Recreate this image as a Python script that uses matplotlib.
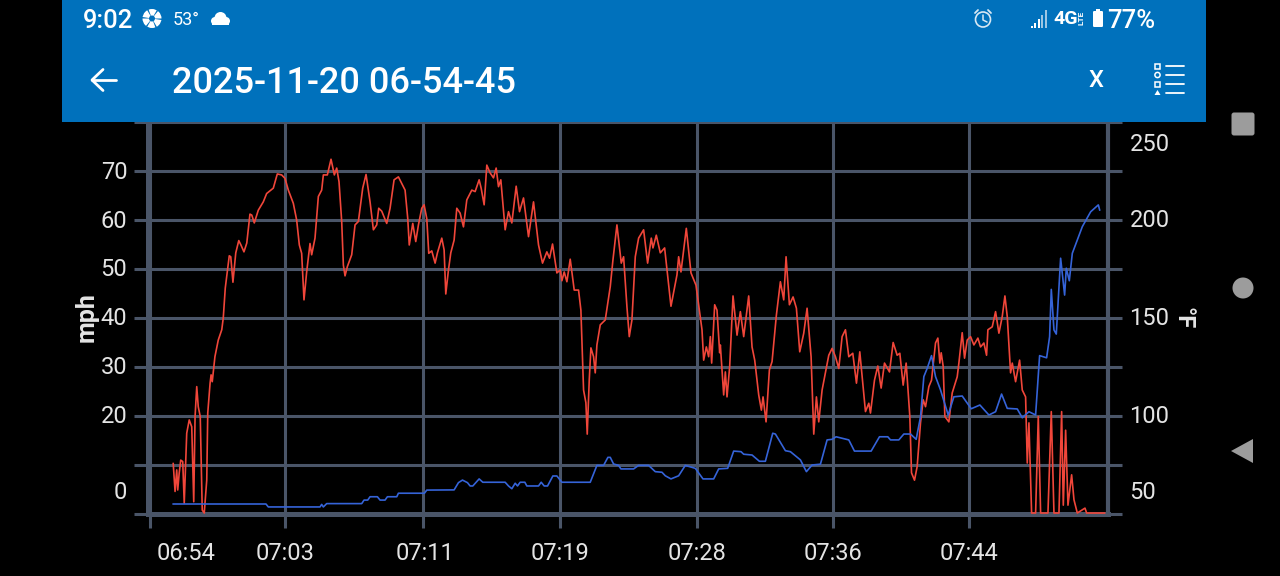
#!/usr/bin/env python3
# -*- coding: utf-8 -*-
import matplotlib
matplotlib.use('Agg')
from matplotlib import pyplot as plt
from matplotlib.patches import Rectangle, Circle, Polygon, FancyBboxPatch, Wedge
from matplotlib.lines import Line2D
from matplotlib.transforms import Affine2D

plt.rcParams['font.family'] = ['Roboto', 'DejaVu Sans']

# minutes since 06:54:45, mph
speed_t = [1.50, 1.61, 1.71, 1.77, 1.86, 1.95, 2.07, 2.16, 2.31, 2.46, 2.61, 2.73, 2.81, 2.91, 3.00, 3.12, 3.24, 3.36,
           3.51, 3.57, 3.71, 3.77, 3.84, 4.00, 4.20, 4.41, 4.50, 4.62, 4.86, 4.95, 5.08, 5.25, 5.43, 5.56, 5.74, 5.91,
           6.10, 6.21, 6.36, 6.60, 6.90, 7.10, 7.50, 7.74, 8.00, 8.20, 8.40, 8.70, 8.90, 9.06, 9.20, 9.34, 9.50, 9.70,
           9.80, 10.00, 10.20, 10.40, 10.50, 10.74, 10.96, 11.16, 11.30, 11.44, 11.60, 11.70, 11.80, 11.94, 12.20,
           12.40, 12.60, 12.86, 13.06, 13.30, 13.50, 13.70, 13.82, 14.00, 14.30, 14.50, 14.74, 15.00, 15.40, 15.56,
           15.65, 15.86, 16.04, 16.20, 16.40, 16.54, 16.70, 16.82, 17.00, 17.20, 17.34, 17.60, 17.74, 17.84, 18.00,
           18.14, 18.34, 18.50, 18.70, 18.90, 19.10, 19.40, 19.60, 19.84, 19.96, 20.14, 20.30, 20.50, 20.70, 20.86,
           21.00, 21.14, 21.40, 21.60, 21.80, 22.06, 22.26, 22.50, 22.80, 23.10, 23.40, 23.64, 23.90, 24.06, 24.24,
           24.50, 24.70, 24.80, 24.94, 25.10, 25.30, 25.54, 25.80, 25.94, 26.00, 26.10, 26.24, 26.32, 26.44, 26.54,
           26.70, 26.80, 26.90, 27.10, 27.40, 27.70, 27.86, 28.10, 28.36, 28.50, 28.70, 28.84, 29.00, 29.20, 29.40,
           29.70, 29.94, 30.16, 30.26, 30.46, 30.70, 30.96, 31.34, 31.70, 31.80, 31.94, 32.26, 32.54, 32.84, 33.20,
           33.30, 33.46, 33.60, 33.70, 33.78, 33.96, 34.10, 34.26, 34.30, 34.50, 34.60, 34.70, 34.86, 35.06, 35.30,
           35.50, 35.70, 36.00, 36.20, 36.36, 36.60, 36.76, 36.86, 37.04, 37.24, 37.40, 37.66, 37.90, 38.10, 38.24,
           38.44, 38.66, 38.86, 39.06, 39.30, 39.50, 39.74, 39.90, 40.06, 40.20, 40.40, 40.80, 41.00, 41.20, 41.40,
           41.60, 41.80, 42.00, 42.24, 42.46, 42.66, 43.00, 43.20, 43.30, 43.54, 43.74, 43.94, 44.14, 44.44, 44.66,
           44.90, 45.06, 45.26, 45.44, 45.66, 45.76, 45.94, 46.10, 46.30, 46.46, 46.60, 46.80, 46.96, 47.20, 47.34,
           47.46, 47.54, 47.66, 47.76, 48.00, 48.20, 48.50, 48.60, 48.80, 48.94, 49.10, 49.30, 49.50, 49.74, 49.90,
           50.10, 50.26, 50.34, 50.60, 50.80, 51.00, 51.20, 51.36, 51.50, 51.70, 51.80, 52.00, 52.24, 52.40, 52.60,
           52.70, 52.80, 52.96, 53.20, 53.36, 53.50, 53.94, 54.14, 54.30, 54.60, 54.76, 54.86, 55.00, 55.14, 55.36,
           55.50, 55.70, 56.16, 56.26, 57.34]
speed_mph = [10.3, 4.6, 9.0, 4.9, 8.4, 11.0, 10.7, 2.2, 16.5, 19.2, 17.8, 2.5, 19.9, 26.0, 21.9, 19.9, 0.8, 0.2,
             6.9, 20.6, 26.7, 28.4, 27.0, 32.1, 35.5, 37.6, 40.0, 46.1, 52.7, 52.5, 47.3, 53.3, 55.8, 54.9, 53.5, 55.3,
             61.2, 61.0, 59.4, 62.0, 63.7, 65.4, 66.5, 69.4, 69.2, 68.5, 66.1, 63.4, 60.0, 54.9, 53.2, 43.7, 49.4, 55.2,
             52.9, 56.3, 64.8, 66.1, 69.2, 69.2, 72.4, 69.2, 70.6, 67.8, 59.7, 50.8, 48.6, 50.5, 52.9,
             59.0, 59.7, 66.5, 69.3, 63.7, 58.0, 59.0, 62.4, 61.8, 59.3, 62.4, 68.2, 68.8, 66.1, 60.3,
             54.9, 59.3, 55.6, 59.0, 62.4, 63.1, 60.3, 53.2, 53.7, 51.2, 53.3, 56.3, 53.9, 44.9, 49.8,
             53.3, 55.9, 62.4, 61.4, 58.6, 64.1, 66.1, 65.8, 68.2, 66.5, 63.1, 71.2, 69.6, 68.6, 70.6,
             66.8, 68.2, 58.0, 61.7, 59.4, 66.9, 61.7, 64.5, 56.6, 63.7, 54.9, 51.2, 53.5, 52.2, 55.1,
             49.2, 49.8, 47.6, 49.4, 47.4, 52.0, 45.7, 45.7, 41.6, 35.5, 25.3, 22.7, 16.3, 27.3, 33.9,
             32.1, 28.8, 34.5, 38.6, 39.6, 46.4, 51.8, 59.0, 51.2, 52.5, 42.3, 36.2, 39.6, 52.5, 56.3,
             58.0, 51.2, 56.3, 54.3, 56.9, 53.3, 54.3, 42.4, 48.8, 52.5, 49.4, 58.3, 49.2, 46.7, 37.6,
             31.4, 34.1, 32.1, 36.2, 30.8, 42.7, 41.6, 32.9, 34.5, 24.3, 29.0, 23.9, 30.1, 44.5, 36.5,
             41.3, 36.2, 44.5, 34.1, 31.4, 24.3, 21.2, 23.9, 18.8, 29.4, 31.1, 40.6, 47.4, 43.7, 52.5,
             42.7, 44.3, 42.0, 33.1, 36.9, 42.0, 32.1, 16.3, 23.9, 18.8, 25.3, 32.4, 33.8, 32.1, 29.7,
             36.2, 37.6, 32.1, 32.8, 26.7, 33.1, 20.9, 22.6, 20.6, 27.3, 30.2, 25.7, 30.8, 29.0, 35.0,
             32.4, 32.8, 26.3, 30.8, 19.9, 8.4, 6.9, 9.7, 18.6, 23.3, 21.9, 26.0, 27.3, 34.9, 35.9,
             30.8, 32.9, 30.1, 19.9, 18.8, 24.7, 28.0, 30.8, 37.0, 31.8, 35.5, 36.2, 34.5, 35.9, 34.1,
             34.9, 32.4, 37.6, 38.2, 41.3, 36.9, 40.3, 44.5, 40.3, 28.8, 30.8, 27.0, 31.4, 25.3, 23.9,
             10.4, 18.6, 0.2, 0.2, 19.9, 0.2, 0.2, 20.9, 0.2, 0.2, 20.9, 1.8, 17.1, 1.8, 8.0,
             2.9, 0.2, 1.2, 0.2, 0.2]

# minutes since 06:54:45, deg F
temp_t = [1.50, 7.06, 7.20, 10.30, 10.40, 10.50, 10.70, 12.80, 12.94, 13.16, 13.30, 13.74, 13.90, 14.20, 14.34, 14.90,
          15.00, 16.56, 16.70, 18.34, 18.60, 18.84, 19.14, 19.30, 19.46, 19.84, 20.06, 21.40, 21.60, 21.80, 22.00,
          22.14, 22.30, 22.58, 22.70, 23.40, 23.56, 23.74, 23.94, 24.26, 24.50, 24.80, 26.50, 26.90, 27.30, 27.56,
          27.70, 27.90, 28.20, 28.34, 29.10, 29.40, 30.00, 30.40, 30.80, 31.00, 31.34, 31.80, 32.20, 32.80, 33.26,
          33.90, 34.20, 34.74, 35.10, 35.54, 35.70, 36.20, 36.64, 37.00, 37.44, 37.60, 38.20, 38.50, 39.10, 39.46,
          39.80, 40.30, 40.70, 41.00, 41.24, 42.00, 42.34, 43.34, 43.84, 44.34, 44.50, 45.00, 45.30, 45.70, 46.04,
          46.30, 46.50, 46.70, 46.96, 47.20, 47.50, 47.96, 48.30, 48.80, 49.34, 49.86, 50.40, 50.80, 51.16, 51.50,
          52.10, 52.40, 52.80, 53.20, 53.44, 53.86, 54.04, 54.14, 54.30, 54.44, 54.70, 54.94, 55.04, 55.22, 55.40,
          56.00, 56.50, 56.96, 57.04]
temp_f = [55.1, 55.1, 53.6, 53.6, 54.9, 53.6, 55.3, 55.3, 57.1, 57.1, 58.8, 58.8, 57.1, 57.1, 58.8, 58.8,
          60.6, 60.6, 62.2, 62.3, 66.0, 67.3, 66.0, 64.3, 64.3, 67.9, 66.2, 66.2, 64.3, 62.9, 65.7,
          64.3, 66.2, 66.2, 64.3, 64.3, 66.2, 64.3, 64.3, 69.4, 69.4, 66.2, 66.2, 74.8, 74.8, 78.9,
          78.9, 75.5, 74.8, 73.0, 73.0, 74.8, 74.8, 71.6, 71.3, 69.5, 67.9, 69.5, 74.8, 73.3, 67.9,
          67.9, 73.0, 73.3, 82.1, 81.8, 80.5, 80.1, 76.9, 76.9, 91.2, 90.8, 82.3, 81.8, 77.6, 71.6,
          75.0, 75.4, 87.8, 88.1, 89.4, 87.8, 82.1, 82.1, 89.4, 89.4, 87.8, 87.8, 90.8, 90.8, 88.1,
          99.6, 120.1, 124.3, 130.8, 120.1, 113.3, 100.5, 109.8, 110.2, 103.7, 105.6, 100.5, 102.2, 111.2, 103.9,
          103.6, 99.1, 102.2, 100.5, 130.8, 129.7, 140.5, 164.6, 143.9, 141.8, 180.5, 161.7, 175.4, 169.0, 183.0,
          196.6, 204.2, 207.7, 205.1]

# the app draws its labels away from the gridlines, so these are kept apart
x_grid = [0.1, 8.2, 16.48, 24.69, 32.9, 41.06, 49.2]
x_label_pos = [2.27, 8.2, 16.6, 24.69, 32.9, 41.06, 49.2]
x_labels = ['06:54', '07:03', '07:11', '07:19', '07:28', '07:36', '07:44']
mph_grid = [0, 10, 20, 30, 40, 50, 60, 70, 80]
mph_label_pos = [4.9, 20.4, 30.4, 40.4, 50.4, 60.2, 70.2]
mph_labels = ['0', '20', '30', '40', '50', '60', '70']
temp_grid = [50, 75, 100, 125, 150, 175, 200, 225, 250]
temp_label_pos = [62.2, 101, 151, 201, 239.8]
temp_labels = ['50', '100', '150', '200', '250']

GRID = '#4a5568'
TEXT = '#e4e4e4'
BAR = '#0071bc'

fig = plt.figure(figsize=(12.8, 5.76), dpi=100, facecolor='black')
ax = fig.add_axes([148.2 / 1280, 1 - 514 / 576, (1108 - 148.2) / 1280, (514 - 122) / 576], facecolor='black')

ax.plot(speed_t, speed_mph, color='#f0463a', lw=1.2, zorder=3)
ax.set_xlim(0, 57.54)
ax.set_ylim(0, 80)

# label ticks sit on top of some gridline ticks, keep both
ax.xaxis.remove_overlapping_locs = False
ax.set_xticks(x_grid)
ax.set_xticklabels([])
ax.set_xticks(x_label_pos, x_labels, minor=True)
ax.set_yticks(mph_grid)
ax.set_yticklabels([])
ax.set_yticks(mph_label_pos, mph_labels, minor=True)
ax.grid(True, which='major', color=GRID, lw=2.2)
ax.set_axisbelow(True)
ax.tick_params(which='major', color=GRID, width=2.2, length=10)
ax.tick_params(axis='x', which='minor', length=0, pad=20, labelsize=17, labelcolor=TEXT)
ax.tick_params(axis='y', which='minor', length=0, pad=15, labelsize=17, labelcolor=TEXT)
for s in ['left', 'bottom']:
    ax.spines[s].set_color(GRID)
    ax.spines[s].set_linewidth(3.6)
ax.spines['top'].set_visible(False)
ax.spines['right'].set_visible(False)

ax2 = ax.twinx()
ax2.plot(temp_t, temp_f, color='#3563d8', lw=1.2, zorder=4)
ax2.set_ylim(50, 250)
ax2.set_yticks(temp_grid)
ax2.set_yticklabels([])
ax2.set_yticks(temp_label_pos, temp_labels, minor=True)
ax2.tick_params(which='major', color=GRID, width=2.2, length=10)
ax2.tick_params(axis='y', which='minor', length=0, pad=15.5, labelsize=17, labelcolor=TEXT)
ax2.spines['right'].set_color(GRID)
ax2.spines['right'].set_linewidth(3)
for s in ['left', 'bottom', 'top']:
    ax2.spines[s].set_visible(False)

fig.text(87 / 1280, 1 - 317 / 576, 'mph', color=TEXT, fontsize=18, fontweight='bold', rotation=90,
         ha='center', va='center')
fig.text(1183 / 1280, 1 - 318 / 576, '°F', color=TEXT, fontsize=17, fontweight='bold', rotation=-90,
         ha='center', va='center')

# phone chrome, in screen pixels
px = Affine2D().scale(1 / 1280, -1 / 576).translate(0, 1) + fig.transFigure


def add(p):
    p.set_transform(px)
    p.set_zorder(6)
    fig.add_artist(p)


def seg(xs, ys, color='white', lw=1.6):
    add(Line2D(xs, ys, color=color, lw=lw, solid_capstyle='round'))


def label(x, y, s, size, weight='normal', ha='left', rotation=0):
    fig.text(x / 1280, 1 - y / 576, s, color='white', fontsize=size, fontweight=weight, ha=ha, va='center',
             rotation=rotation, zorder=8)


add(Rectangle((62, 0), 1144, 122, fc=BAR, ec='none'))
label(83, 20.5, '9:02', 18.4, 'medium')
label(173, 20, '53°', 13, 'normal')
label(172, 83.5, '2025-11-20 06-54-45', 26, 'medium')
label(1096, 80.5, 'X', 17, 'medium', ha='center')
label(1053, 19, '4G', 14, 'bold')
label(1081, 18, 'LTE', 6, 'bold', ha='center', rotation=90)
label(1107, 20.5, '77%', 18.5, 'medium')

# aperture
add(Circle((152, 18.5), 9.5, fc='white', ec='none'))
for a in range(0, 360, 60):
    add(Wedge((152, 18.5), 10, a, a + 9, fc=BAR, ec='none'))
add(Circle((152, 18.5), 3, fc=BAR, ec='none'))
# cloud
add(Circle((215, 21), 4, fc='white', ec='none'))
add(Circle((220.5, 18), 6, fc='white', ec='none'))
add(Circle((226, 21), 4, fc='white', ec='none'))
add(Rectangle((212, 21), 17, 4, fc='white', ec='none'))
# alarm clock
add(Circle((983, 19.5), 7.5, fc='none', ec='#d8e8f4', lw=1.2))
seg([983, 983, 987], [15, 20, 22], '#d8e8f4', 1.1)
seg([975, 978], [13, 10], '#d8e8f4', 1.3)
seg([988, 991], [10, 13], '#d8e8f4', 1.3)
# signal bars
for i, h in enumerate([2, 5, 9, 13, 18]):
    add(Rectangle((1030.5 + i * 3.5, 27.5 - h), 2, h, fc='white' if i < 3 else '#9cc6e4', ec='none'))
# battery
add(FancyBboxPatch((1093, 11), 10, 16, boxstyle='round,pad=0,rounding_size=1.2', fc='white', ec='none'))
add(Rectangle((1096, 8.5), 4, 3, fc='white', ec='none'))
# back arrow
seg([92, 116], [80, 80], 'white', 2)
seg([103, 92, 103], [69.5, 80, 90.5], 'white', 2)
# list icon
for y in [66, 75, 84, 93]:
    seg([1166, 1184], [y, y], 'white', 1.3)
add(Rectangle((1155, 63.5), 5, 5, fc='none', ec='white', lw=1.1))
add(Circle((1157.5, 75), 2.6, fc='none', ec='white', lw=1.1))
add(Rectangle((1155, 81.5), 5, 5, fc='none', ec='white', lw=1.1))
add(Polygon([[1154.5, 95], [1160.5, 95], [1157.5, 90]], fc='white', ec='none'))
# navigation buttons
add(FancyBboxPatch((1231.5, 112.5), 23, 23, boxstyle='round,pad=0,rounding_size=2.5', fc='#9c9c9c', ec='none'))
add(Circle((1243, 288), 10.5, fc='#9c9c9c', ec='none'))
add(Polygon([[1253, 439], [1253, 463], [1231, 451]], fc='#9c9c9c', ec='none'))

fig.savefig('out.png', dpi=100, facecolor='black')
